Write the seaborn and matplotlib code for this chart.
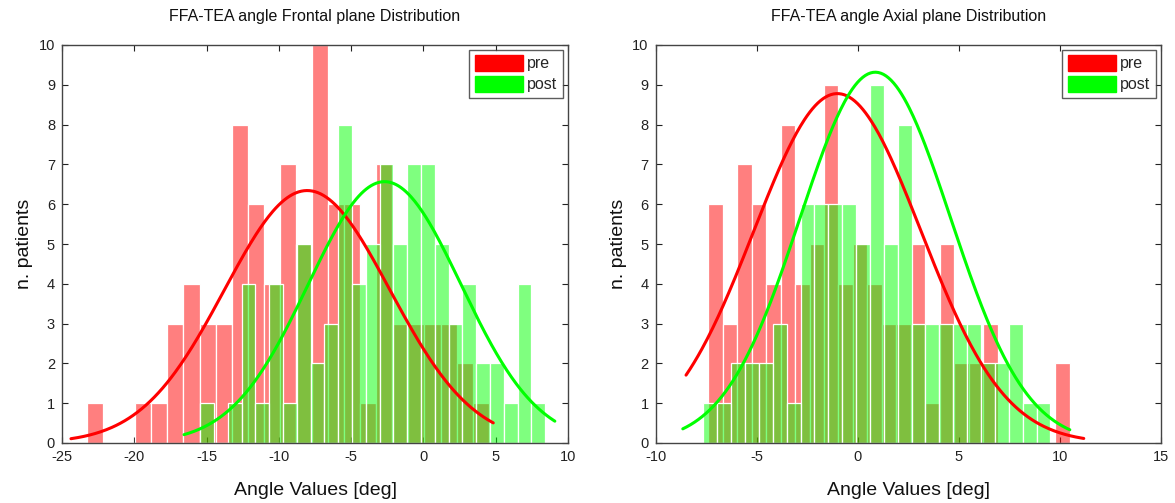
import numpy as np
import pandas as pd
import matplotlib
matplotlib.use("Agg")
import matplotlib.pyplot as plt
from matplotlib.patches import Patch
import seaborn as sns

# ---------------- data ----------------
# histogram counts (25 bins each) and the data range that the bins span
frontal_pre_counts = [1, 0, 0, 1, 1, 3, 4, 3, 3, 8, 6, 4, 7, 5, 10, 6, 6, 1, 7, 3, 3, 3, 3, 2, 1]
frontal_pre_range = (-23.27, 4.52)
frontal_post_counts = [1, 0, 1, 4, 1, 4, 1, 5, 2, 3, 8, 4, 5, 7, 5, 7, 7, 5, 3, 4, 2, 2, 1, 4, 1]
frontal_post_range = (-15.44, 8.42)

axial_pre_counts = [6, 3, 7, 6, 4, 8, 4, 5, 9, 4, 5, 4, 3, 3, 5, 1, 5, 2, 2, 3, 0, 0, 0, 0, 2]
axial_pre_range = (-7.39, 10.49)
axial_post_counts = [1, 1, 2, 2, 2, 3, 1, 6, 6, 6, 6, 5, 9, 5, 8, 3, 3, 3, 3, 3, 2, 2, 3, 1, 1]
axial_post_range = (-7.63, 9.53)

# x extent over which the fitted normal curves are drawn
frontal_pre_curve_span = (-24.38, 4.83)
frontal_post_curve_span = (-16.56, 9.09)
axial_pre_curve_span = (-8.49, 11.18)
axial_post_curve_span = (-8.65, 10.49)

titles = ["FFA-TEA angle Frontal plane Distribution", "FFA-TEA angle Axial plane Distribution"]
xlims = [(-25, 10), (-10, 15)]
xtick_vals = [[-25, -20, -15, -10, -5, 0, 5, 10], [-10, -5, 0, 5, 10, 15]]
ytick_vals = list(range(0, 11))
series_labels = ["pre", "post"]
xlabel_text = "Angle Values [deg]"
ylabel_text = "n. patients"

# ---------------- styling ----------------
sns.set_theme(style="white")
plt.rcParams["font.family"] = ["Liberation Sans", "DejaVu Sans"]

RED = "#ff0000"
GREEN = "#00ff00"


def centers_of(counts, rng):
    n = len(counts)
    edges = np.linspace(rng[0], rng[1], n + 1)
    return (edges[:-1] + edges[1:]) / 2


def draw_hist(ax, counts, rng, color):
    c = centers_of(counts, rng)
    df = pd.DataFrame({"x": c, "w": counts})
    sns.histplot(data=df, x="x", weights="w", bins=len(counts), binrange=rng,
                 color=color, alpha=0.5, edgecolor="white", linewidth=0.9,
                 ax=ax, stat="count")


def draw_fit(ax, counts, rng, span, color):
    c = centers_of(counts, rng)
    w = np.asarray(counts, float)
    n = w.sum()
    mu = np.average(c, weights=w)
    sd = np.sqrt(np.average((c - mu) ** 2, weights=w))
    xs = np.linspace(span[0], span[1], 300)
    ys = n * np.exp(-(xs - mu) ** 2 / (2 * sd ** 2)) / (sd * np.sqrt(2 * np.pi))
    sns.lineplot(x=xs, y=ys, color=color, linewidth=2.2, ax=ax)


fig = plt.figure(figsize=(11.75, 5.03), dpi=100)
W, H = 1175, 503
ax_l = fig.add_axes([62 / W, (H - 443) / H, (568 - 62) / W, (443 - 45) / H])
ax_r = fig.add_axes([655.5 / W, (H - 443) / H, (1161 - 655.5) / W, (443 - 45) / H])

panels = [
    (ax_l, frontal_pre_counts, frontal_pre_range, frontal_pre_curve_span,
     frontal_post_counts, frontal_post_range, frontal_post_curve_span),
    (ax_r, axial_pre_counts, axial_pre_range, axial_pre_curve_span,
     axial_post_counts, axial_post_range, axial_post_curve_span),
]

for i, (ax, pc, pr, ps, qc, qr, qs) in enumerate(panels):
    draw_hist(ax, pc, pr, RED)
    draw_hist(ax, qc, qr, GREEN)
    draw_fit(ax, pc, pr, ps, RED)
    draw_fit(ax, qc, qr, qs, GREEN)

    ax.set_xlim(*xlims[i])
    ax.set_ylim(0, 10)
    ax.set_xticks(xtick_vals[i])
    ax.set_xticklabels([str(v) for v in xtick_vals[i]])
    ax.set_yticks(ytick_vals)
    ax.set_yticklabels([str(v) for v in ytick_vals])
    ax.tick_params(axis="both", direction="in", length=4, width=0.8,
                   top=True, right=True, bottom=True, left=True,
                   labelsize=10.5, colors="#222222", pad=5)
    for s in ax.spines.values():
        s.set_visible(True)
        s.set_color("#444444")
        s.set_linewidth(1.0)
    ax.set_title(titles[i], fontsize=11.5, pad=17, color="#111111")
    ax.set_xlabel(xlabel_text, fontsize=14, labelpad=13, color="#111111")
    ax.set_ylabel(ylabel_text, fontsize=14, labelpad=4, color="#111111")
    ax.grid(False)

    handles = [Patch(facecolor=RED, edgecolor=RED), Patch(facecolor=GREEN, edgecolor=GREEN)]
    leg = ax.legend(handles, series_labels, loc="upper right", fontsize=11.5,
                    frameon=True, fancybox=False, edgecolor="#333333",
                    handlelength=3.0, handleheight=1.1, handletextpad=0.3,
                    labelspacing=0.3, borderpad=0.35, borderaxespad=0.3)
    leg.get_frame().set_linewidth(1.0)

fig.savefig("out.png", dpi=100, facecolor="white")
